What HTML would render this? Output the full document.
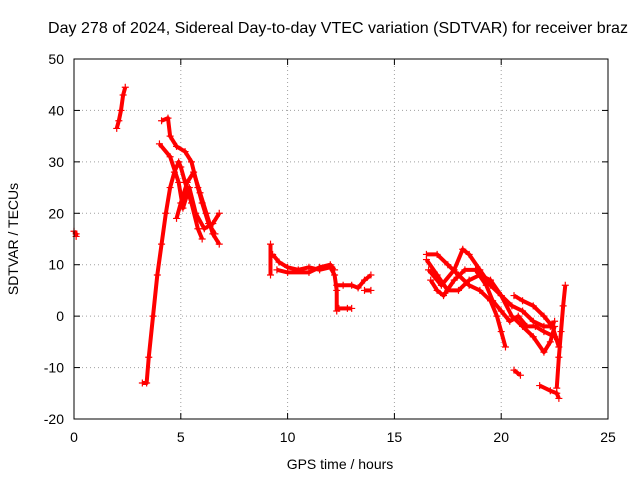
<!DOCTYPE html>
<html><head><meta charset="utf-8"><style>
body{margin:0;background:#fff}
svg{display:block;font-family:"Liberation Sans",sans-serif}
</style></head><body>
<svg width="640" height="480" id="c">
<text x="338" y="33" text-anchor="middle" font-size="16" textLength="580" lengthAdjust="spacingAndGlyphs">Day 278 of 2024, Sidereal Day-to-day VTEC variation (SDTVAR) for receiver braz</text>
<text x="340" y="469" text-anchor="middle" font-size="14">GPS time / hours</text>
<text transform="translate(18,239) rotate(-90)" text-anchor="middle" font-size="14">SDTVAR / TECUs</text>
<g id="grid"></g><g id="marks"></g>
<rect x="74" y="59" width="534" height="360" fill="none" stroke="#000"/>
</svg>
<script>
const xTicks=[0,5,10,15,20,25];
const yTicks=[-20,-10,0,10,20,30,40,50];
const tracks=[
[[0,16.5],[0.1,16],[0.1,15.5]],
[[2.0,36.5],[2.1,38],[2.2,40],[2.3,43],[2.4,44.5]],
[[3.2,-13],[3.4,-13],[3.5,-8],[3.7,0],[3.9,8],[4.1,14],[4.3,20],[4.5,25],[4.7,28],[4.9,30],[5.0,29],[5.2,26],[5.5,22],[5.8,17],[6.0,15]],
[[4.1,38],[4.4,38.5],[4.5,35],[4.8,33],[5.2,32],[5.5,30],[5.8,25],[6.0,22],[6.3,18],[6.6,16]],
[[4.0,33.5],[4.5,31],[4.9,26],[5.1,21],[5.4,25],[5.7,20],[6.1,17],[6.5,18],[6.8,20]],
[[4.8,19],[5.0,22],[5.3,26],[5.6,28],[5.9,24],[6.2,20],[6.5,16],[6.8,14]],
[[9.2,14],[9.2,8]],
[[9.3,12],[9.6,10.5],[10,9.5],[10.5,9],[11,9.5],[11.5,9],[12,9.5],[12.2,8],[12.3,5],[12.3,1]],
[[9.5,9],[10,8.5],[11,8.5],[11.5,9.5],[12,10],[12.2,9]],
[[12.3,6],[12.6,6],[13,6],[13.3,5.5],[13.6,7],[13.9,8]],
[[12.4,1.5],[12.8,1.5],[13.0,1.5]],
[[13.6,5],[13.9,5]],
[[16.5,12],[17,12],[17.5,10],[18,8],[18.5,6],[19,5],[19.5,3],[19.8,0],[20,-3],[20.2,-6]],
[[16.5,11],[17,8],[17.5,5],[18,5],[18.5,7],[19,8],[19.5,7],[20,4],[20.5,2],[21,1],[21.5,-1],[22,-2],[22.3,-2],[22.5,-1]],
[[16.6,9],[17.2,6],[17.8,9],[18.2,13],[18.5,12],[19,9],[19.5,6],[20,4],[20.5,0],[21,-2],[21.5,-4],[22,-7],[22.3,-5],[22.5,-2]],
[[16.7,7],[17,5],[17.3,4],[17.8,7],[18.3,9],[18.8,9],[19.3,6],[19.6,3],[20,1],[20.4,-1],[20.8,0],[21.2,-2],[21.6,-2],[22,-3],[22.5,-4]],
[[20.6,4],[21,3],[21.5,2],[22,0],[22.4,-2],[22.7,-6]],
[[20.6,-10.5],[20.9,-11.5]],
[[21.8,-13.5],[22.3,-14.5],[22.6,-15],[22.7,-16]],
[[22.6,-14],[22.7,-8],[22.8,-3],[22.9,2],[23.0,6]]
];
const X0=74,X1=608,Y0=419,Y1=59;
const xs=v=>X0+(v-0)/25*(X1-X0);
const ys=v=>Y0-(v+20)/70*(Y0-Y1);
const NS="http://www.w3.org/2000/svg";
const grid=document.getElementById('grid'),marks=document.getElementById('marks');
function mk(tag,a,p){const e=document.createElementNS(NS,tag);for(const k in a)e.setAttribute(k,a[k]);p.appendChild(e);return e;}
xTicks.forEach(t=>{const x=xs(t);
 if(t>0&&t<25){const l=mk('line',{x1:x,x2:x,y1:Y0,y2:Y1,stroke:'#a0a0a0','stroke-dasharray':'1,3'},grid);}
 mk('line',{x1:x,x2:x,y1:Y0,y2:Y0-6,stroke:'#000'},grid);mk('line',{x1:x,x2:x,y1:Y1,y2:Y1+6,stroke:'#000'},grid);
 const tx=mk('text',{x:x,y:Y0+23,'text-anchor':'middle','font-size':'14'},grid);tx.textContent=t;
 });
yTicks.forEach(t=>{const y=ys(t);
 if(t>-20&&t<50){const l=mk('line',{x1:X0,x2:X1,y1:y,y2:y,stroke:'#a0a0a0','stroke-dasharray':'1,3'},grid);}
 mk('line',{x1:X0,x2:X0+6,y1:y,y2:y,stroke:'#000'},grid);mk('line',{x1:X1,x2:X1-6,y1:y,y2:y,stroke:'#000'},grid);
 const tx=mk('text',{x:X0-10,y:y+5,'text-anchor':'end','font-size':'14'},grid);tx.textContent=t;
 });
tracks.forEach(tr=>{
 const pl=mk('polyline',{points:tr.map(p=>xs(p[0])+','+ys(p[1])).join(' '),fill:'none',stroke:'#f00','stroke-width':'4','stroke-linejoin':'round'},marks);
 
 tr.forEach(p=>{const x=xs(p[0]),y=ys(p[1]);
  const m=mk('path',{d:`M${x-3.5},${y}H${x+3.5}M${x},${y-3.5}V${y+3.5}`,stroke:'#f00','stroke-width':'1.2'},marks);
  });
});
</script>
</body></html>
